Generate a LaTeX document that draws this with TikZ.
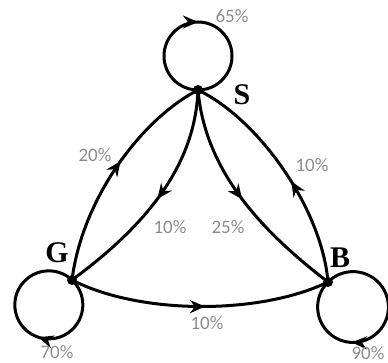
\documentclass[tikz,border=0pt]{standalone}
\usepackage{fontspec}
\setmainfont{Liberation Serif}
\newfontfamily\labfont{Carlito}
\usetikzlibrary{arrows.meta,decorations.markings}
\tikzset{
  x=1pt,y=1pt,
  dot/.style={circle,fill=black,inner sep=0pt,minimum size=10pt},
  edge/.style={line width=3pt,postaction={decorate},
    decoration={markings,mark=at position #1 with {\arrow{Stealth[length=15pt,width=13pt]}}}},
  edge/.default=0.5,
  pct/.style={text=black!45,font=\labfont\fontsize{19}{21}\selectfont,inner sep=0pt},
  letter/.style={font=\bfseries\fontsize{30}{33}\selectfont,inner sep=0pt}
}
\begin{document}
\begin{tikzpicture}
\useasboundingbox (0,0) rectangle (388,363);
\node[dot] (S) at (198,273) {};
\node[dot] (G) at (72,83) {};
\node[dot] (B) at (328,81) {};
% self loops
\draw[edge=0.5] (S.center) arc[start angle=-90,end angle=-450,radius=34];
\draw[edge=0.43] (G.center) arc[start angle=47,end angle=-313,radius=34];
\draw[edge=0.63] (B.center) arc[start angle=135,end angle=-225,radius=35.4];
% edges
\draw[edge=0.55] (G.center) .. controls (82,163) and (140,243) .. (S.center);
\draw[edge=0.5] (S.center) .. controls (195,193) and (140,133) .. (G.center);
\draw[edge=0.5] (S.center) .. controls (205,193) and (260,133) .. (B.center);
\draw[edge=0.45] (B.center) .. controls (322,153) and (260,243) .. (S.center);
\draw[edge=0.52] (G.center) .. controls (140,48) and (260,48) .. (B.center);
% letters
\node[letter] (lS) at (242,268) {S};
\node[letter] (lG) at (57,110) {G};
\node[letter] (lB) at (340,105) {B};
% percentages
\node[pct] (p65) at (232,347) {65\%};
\node[pct] (p20) at (95,208) {20\%};
\node[pct] (p10a) at (170,136) {10\%};
\node[pct] (p25) at (228,136) {25\%};
\node[pct] (p10b) at (312,198) {10\%};
\node[pct] (p10c) at (207,40) {10\%};
\node[pct] (p70) at (57,11) {70\%};
\node[pct] (p90) at (368,10) {90\%};
\end{tikzpicture}
\end{document}
